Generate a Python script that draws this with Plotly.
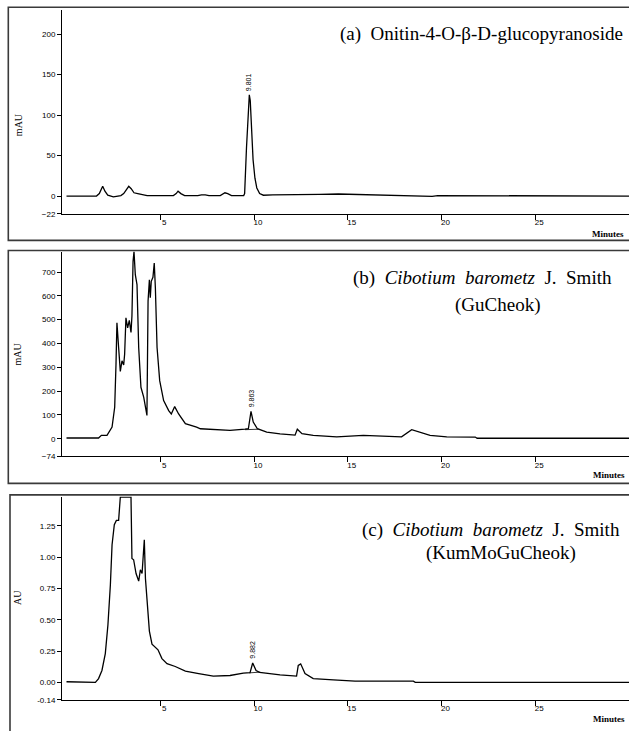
import plotly.graph_objects as go

W, H = 629, 731

# ---------------- data ----------------
# (a) Onitin-4-O-beta-D-glucopyranoside standard (mAU)
time_a = [0.0, 1.6, 1.75, 1.93, 2.05, 2.2, 2.5, 2.7, 2.9, 3.05, 3.2, 3.32, 3.45, 3.6, 3.8,
          4.1, 4.3, 5.0, 5.7, 5.85, 5.95, 6.1, 6.3, 7.0, 7.2, 7.4, 7.6, 8.2, 8.35, 8.45, 8.6,
          8.8, 9.45, 9.5, 9.6, 9.7, 9.75, 9.8, 9.88, 9.95, 10.05, 10.15, 10.3, 10.5, 11.0,
          13.0, 13.5, 14.5, 15.5, 16.5, 19.0, 19.5, 19.8, 20.8, 21.0, 30.0]
mau_a = [0, 0, 3, 12, 6, 1, -1, -0.5, 0.5, 3, 9, 12, 9, 4, 3,
         2, 0.5, 0.5, 0.5, 3, 6, 3, 0.5, 0.5, 1.5, 1.5, 0.5, 0.5, 3, 4, 3,
         0.5, 0.5, 3, 60, 118, 125, 118, 65, 45, 22, 10, 3, 1, 1.5,
         1.5, 2, 2.5, 2, 1, 0.5, -0.5, 0.5, 0.5, 0, 0]

# (b) Cibotium barometz J. Smith (GuCheok) (mAU)
time_b = [0.0, 1.71, 1.86, 2.16, 2.43, 2.57, 2.64, 2.69, 2.78, 2.87, 2.96, 3.05, 3.10, 3.17,
          3.26, 3.35, 3.44, 3.49, 3.55, 3.60, 3.67, 3.76, 3.85, 3.97, 4.12, 4.21, 4.29, 4.35,
          4.42, 4.47, 4.52, 4.61, 4.68, 4.74, 4.83, 4.97, 5.18, 5.45, 5.59, 5.77, 5.98, 6.34,
          6.69, 6.94, 7.14, 7.83, 8.72, 9.52, 9.70, 9.84, 9.96, 10.18, 10.68, 11.39, 12.19,
          12.31, 12.56, 13.16, 14.41, 15.83, 17.43, 17.87, 18.41, 18.85, 19.39, 20.28, 21.8,
          21.9, 30.0]
mau_b = [3, 3, 14, 14, 49, 132, 313, 487, 383, 283, 327, 310, 355, 508,
         466, 497, 446, 515, 745, 786, 689, 647, 383, 216, 174, 139, 98, 578,
         668, 592, 661, 678, 738, 633, 383, 244, 160, 118, 104, 135, 104, 63,
         56, 49, 42, 38, 35, 40, 42, 115, 70, 42, 28, 20, 15,
         40, 21, 14, 8, 14, 8, 8, 38, 28, 14, 8, 7,
         2, 2]
base_time_b = [9.52, 10.25]
base_mau_b = [38, 40]

# (c) Cibotium barometz J. Smith (KumMoGuCheok) (AU)
time_c = [0.0, 1.54, 1.71, 1.89, 2.07, 2.21, 2.34, 2.43, 2.55, 2.66, 2.78, 2.87, 3.44, 3.49,
          3.58, 3.71, 3.85, 3.94, 4.03, 4.15, 4.21, 4.29, 4.42, 4.56, 4.88, 5.09, 5.36, 5.80,
          6.34, 7.05, 7.83, 8.72, 9.43, 9.79, 9.93, 10.11, 10.3, 11.39, 12.27, 12.36, 12.49,
          12.72, 13.16, 14.23, 15.39, 18.5, 18.6, 30.0]
au_c = [0.005, 0.0, 0.03, 0.095, 0.23, 0.46, 0.78, 1.10, 1.26, 1.295, 1.295, 1.48, 1.48, 0.99,
        0.98, 0.87, 0.81, 0.90, 0.87, 1.14, 0.83, 0.675, 0.41, 0.305, 0.26, 0.19, 0.15, 0.127,
        0.09, 0.07, 0.05, 0.055, 0.074, 0.077, 0.155, 0.095, 0.08, 0.06, 0.05, 0.135, 0.148,
        0.07, 0.03, 0.02, 0.01, 0.01, 0.0, 0.0]
base_time_c = [9.75, 10.35]
base_au_c = [0.076, 0.082]

peak_time = [9.75, 9.84, 9.93]
peak_value = [125, 115, 0.155]
peak_text = ["9.801", "9.863", "9.882"]

x_tickvals = [5, 10, 15, 20, 25, 30]
x_ticktext = ["5", "10", "15", "20", "25", ""]

ya_tickvals = [-22, 0, 50, 100, 150, 200]
yb_tickvals = [-74, 0, 100, 200, 300, 400, 500, 600, 700]
yc_tickvals = [-0.14, 0.0, 0.25, 0.5, 0.75, 1.0, 1.25]
yc_ticktext = ["-0.14", "0.00", "0.25", "0.50", "0.75", "1.00", "1.25"]

# ---------------- layout helpers ----------------
def px_x(p):
    return p / W

def px_y(p):
    return 1 - p / H

TICKFONT = dict(family="Liberation Sans", size=8, color="black")
LINE = dict(color="black", width=1.3)

fig = go.Figure()
fig.add_trace(go.Scatter(x=time_a, y=mau_a, mode="lines", line=LINE, xaxis="x", yaxis="y"))
fig.add_trace(go.Scatter(x=time_b, y=mau_b, mode="lines", line=LINE, xaxis="x2", yaxis="y2"))
fig.add_trace(go.Scatter(x=base_time_b, y=base_mau_b, mode="lines", line=dict(color="black", width=0.8),
                         xaxis="x2", yaxis="y2"))
fig.add_trace(go.Scatter(x=time_c, y=au_c, mode="lines", line=LINE, xaxis="x3", yaxis="y3"))
fig.add_trace(go.Scatter(x=base_time_c, y=base_au_c, mode="lines", line=dict(color="black", width=0.8),
                         xaxis="x3", yaxis="y3"))

xdom = [px_x(62), 1.0]
domains = {
    "a": [px_y(215.3), px_y(10)],
    "b": [px_y(459.5), px_y(253.3)],
    "c": [px_y(704.7), px_y(500)],
}

def xaxis(anchor):
    return dict(domain=xdom, range=[-0.24, 30], anchor=anchor, showline=True, linecolor="black",
                linewidth=1, ticks="outside", ticklen=5, tickcolor="black", tickvals=x_tickvals,
                ticktext=x_ticktext, tickfont=TICKFONT, showgrid=False, zeroline=False,
                ticklabelstandoff=-4, ticklabelshift=4)

def yaxis(anchor, dom, rng, tv, tt=None):
    d = dict(domain=dom, range=rng, anchor=anchor, showline=True, linecolor="black", linewidth=1,
             ticks="outside", ticklen=4, tickcolor="black", tickvals=tv, tickfont=TICKFONT,
             showgrid=False, zeroline=False)
    if tt is not None:
        d["ticktext"] = tt
    return d

annotations = []
serif = "Liberation Serif"

def text(x, y, s, size, xanchor="center", yanchor="middle", angle=0, family=serif, bold=False,
         xref="paper", yref="paper"):
    annotations.append(dict(x=x, y=y, xref=xref, yref=yref, text=(f"<b>{s}</b>" if bold else s),
                            showarrow=False, xanchor=xanchor, yanchor=yanchor, textangle=angle,
                            font=dict(family=family, size=size, color="black")))

# titles
text(px_x(625), px_y(34), "(a)&nbsp; Onitin-4-O-β-D-glucopyranoside", 19, xanchor="right")
text(px_x(614), px_y(280), "(b)&nbsp; <i>Cibotium&nbsp; barometz</i>&nbsp; J.&nbsp; Smith", 19, xanchor="right")
text(px_x(497), px_y(306.7), "(GuCheok)", 19)
text(px_x(622), px_y(533.3), "(c)&nbsp; <i>Cibotium&nbsp; barometz</i>&nbsp; J.&nbsp; Smith", 19, xanchor="right")
text(px_x(501), px_y(556.7), "(KumMoGuCheok)", 19)

# y-axis titles
text(px_x(18), px_y(126), "mAU", 10, angle=-90)
text(px_x(18), px_y(357), "mAU", 10, angle=-90)
text(px_x(18), px_y(602), "AU", 10, angle=-90)

# Minutes labels
text(px_x(626), px_y(235.7), "Minutes", 9, xanchor="right", bold=True)
text(px_x(627), px_y(478.5), "Minutes", 9, xanchor="right", bold=True)
text(px_x(627), px_y(724), "Minutes", 9, xanchor="right", bold=True)

# peak labels
for i, (xr, yr) in enumerate([("x", "y"), ("x2", "y2"), ("x3", "y3")]):
    annotations.append(dict(x=peak_time[i], y=peak_value[i], xref=xr, yref=yr, text=peak_text[i],
                            showarrow=False, xanchor="center", yanchor="bottom", textangle=-90,
                            yshift=2, font=dict(family="Liberation Sans", size=7, color="black")))

# panel frames
frame = dict(type="rect", xref="paper", yref="paper", line=dict(color="#3a3a3a", width=1.6),
             fillcolor="rgba(0,0,0,0)", layer="below")
shapes = [
    dict(frame, x0=px_x(8.3), x1=1.02, y0=px_y(242), y1=px_y(7.3)),
    dict(frame, x0=px_x(8.3), x1=1.02, y0=px_y(486.7), y1=px_y(252.3)),
    dict(frame, x0=px_x(10), x1=1.02, y0=-0.02, y1=px_y(498.3)),
]

fig.update_layout(
    width=W, height=H, margin=dict(l=0, r=0, t=0, b=0),
    paper_bgcolor="white", plot_bgcolor="white", showlegend=False,
    xaxis=xaxis("y"), xaxis2=xaxis("y2"), xaxis3=xaxis("y3"),
    yaxis=yaxis("x", domains["a"], [-22, 230], ya_tickvals),
    yaxis2=yaxis("x2", domains["b"], [-74, 786], yb_tickvals),
    yaxis3=yaxis("x3", domains["c"], [-0.14, 1.485], yc_tickvals, yc_ticktext),
    annotations=annotations, shapes=shapes,
)

fig.write_html(
    "out.html",
    config={"displayModeBar": False},
    post_script=(
        "document.body.style.margin='0';"
        "document.body.style.overflow='hidden';"
        "document.documentElement.style.overflow='hidden';"
    ),
)
